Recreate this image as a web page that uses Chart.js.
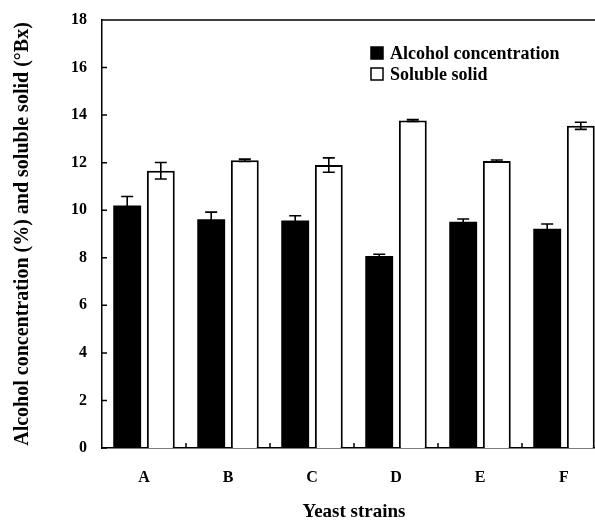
<!DOCTYPE html>
<html lang="en">
<head>
    <meta charset="UTF-8">
    <title>Yeast strains</title>
    <script src="https://cdn.jsdelivr.net/npm/chart.js"></script>
    <style>
        html, body { margin: 0; padding: 0; background: #fff; overflow: hidden; }
    </style>
</head>
<body>
    <canvas id="chart" width="612" height="520"></canvas>

    <script>
        // values
        const strains = ['A', 'B', 'C', 'D', 'E', 'F'];
        const alcohol = [10.2, 9.62, 9.57, 8.08, 9.52, 9.22];
        const alcoholErr = [0.38, 0.3, 0.2, 0.07, 0.11, 0.2];
        const solid = [11.66, 12.1, 11.9, 13.77, 12.07, 13.55];
        const solidErr = [0.35, 0.05, 0.3, 0.04, 0.04, 0.15];
        const yTicks = [0, 2, 4, 6, 8, 10, 12, 14, 16, 18];

        const serif = '"Liberation Serif", "Times New Roman", serif';
        Chart.defaults.font.family = serif;
        Chart.defaults.color = '#000';

        // error bars, inward tick marks, top frame line and the legend box
        const extras = {
            id: 'extras',
            afterDatasetsDraw(chart) {
                const ctx = chart.ctx;
                const y = chart.scales.y;
                const errs = [alcoholErr, solidErr];
                ctx.save();
                ctx.strokeStyle = '#000';
                ctx.lineWidth = 1.6;
                chart.data.datasets.forEach((ds, di) => {
                    chart.getDatasetMeta(di).data.forEach((bar, i) => {
                        const v = ds.data[i], e = errs[di][i];
                        const top = y.getPixelForValue(v + e);
                        const bot = y.getPixelForValue(v - e);
                        ctx.beginPath();
                        ctx.moveTo(bar.x, top); ctx.lineTo(bar.x, bot);
                        ctx.moveTo(bar.x - 6, top); ctx.lineTo(bar.x + 6, top);
                        ctx.moveTo(bar.x - 6, bot); ctx.lineTo(bar.x + 6, bot);
                        ctx.stroke();
                    });
                });
                ctx.restore();
            },
            afterDraw(chart) {
                const ctx = chart.ctx;
                const {left, right, top, bottom} = chart.chartArea;
                const x = chart.scales.x, y = chart.scales.y;
                ctx.save();
                ctx.strokeStyle = '#000';
                ctx.lineWidth = 1.5;
                ctx.beginPath();
                ctx.moveTo(left, top); ctx.lineTo(right, top);
                yTicks.forEach(t => {
                    const py = y.getPixelForValue(t);
                    ctx.moveTo(left, py); ctx.lineTo(left + 5, py);
                });
                for (let i = 1; i < strains.length; i++) {
                    const px = (x.getPixelForTick(i - 1) + x.getPixelForTick(i)) / 2;
                    ctx.moveTo(px, bottom); ctx.lineTo(px, bottom - 5);
                }
                ctx.stroke();

                // legend
                ctx.font = 'bold 18px ' + serif;
                ctx.textBaseline = 'middle';
                ctx.fillStyle = '#000';
                const lx = left + 269, ly = top + 33;
                chart.data.datasets.forEach((ds, i) => {
                    const cy = ly + i * 21;
                    ctx.fillStyle = ds.backgroundColor;
                    ctx.fillRect(lx, cy - 6, 12, 12);
                    ctx.strokeRect(lx, cy - 6, 12, 12);
                    ctx.fillStyle = '#000';
                    ctx.fillText(ds.label, lx + 19, cy + 1);
                });
                ctx.restore();
            }
        };

        new Chart(document.getElementById('chart'), {
            type: 'bar',
            data: {
                labels: strains,
                datasets: [{
                    label: 'Alcohol concentration',
                    data: alcohol,
                    backgroundColor: '#000',
                    borderColor: '#000',
                    borderWidth: 0
                }, {
                    label: 'Soluble solid',
                    data: solid,
                    backgroundColor: '#fff',
                    borderColor: '#000',
                    borderWidth: 2,
                    borderSkipped: 'bottom'
                }]
            },
            options: {
                responsive: false,
                animation: false,
                categoryPercentage: 0.8,
                barPercentage: 0.83,
                layout: { padding: { top: 20, right: 6, left: 0, bottom: 0 } },
                plugins: {
                    legend: { display: false },
                    tooltip: { enabled: false }
                },
                scales: {
                    x: {
                        grid: { display: false, drawTicks: false },
                        border: { display: true, color: '#000', width: 1.5 },
                        ticks: { font: { size: 16, weight: 'bold' }, padding: 20 },
                        title: {
                            display: true,
                            text: 'Yeast strains',
                            font: { size: 19, weight: 'bold', lineHeight: 0.8 },
                            padding: { top: 0, bottom: 0 }
                        },
                        afterFit(scale) { scale.height = 72; }
                    },
                    y: {
                        min: 0,
                        max: 18,
                        grid: { display: false, drawTicks: false },
                        border: { display: true, color: '#000', width: 1.5 },
                        ticks: { stepSize: 2, font: { size: 16, weight: 'bold' }, padding: 15 },
                        title: {
                            display: true,
                            text: 'Alcohol concentration (%) and soluble solid (°Bx)',
                            font: { size: 20, weight: 'bold', lineHeight: 1.2 },
                            padding: { top: 11, bottom: 0 }
                        },
                        afterFit(scale) {
                            scale.width = 102;
                            scale.paddingTop = 0;
                            scale.paddingBottom = 0;
                        }
                    }
                }
            },
            plugins: [extras]
        });
    </script>
</body>
</html>
